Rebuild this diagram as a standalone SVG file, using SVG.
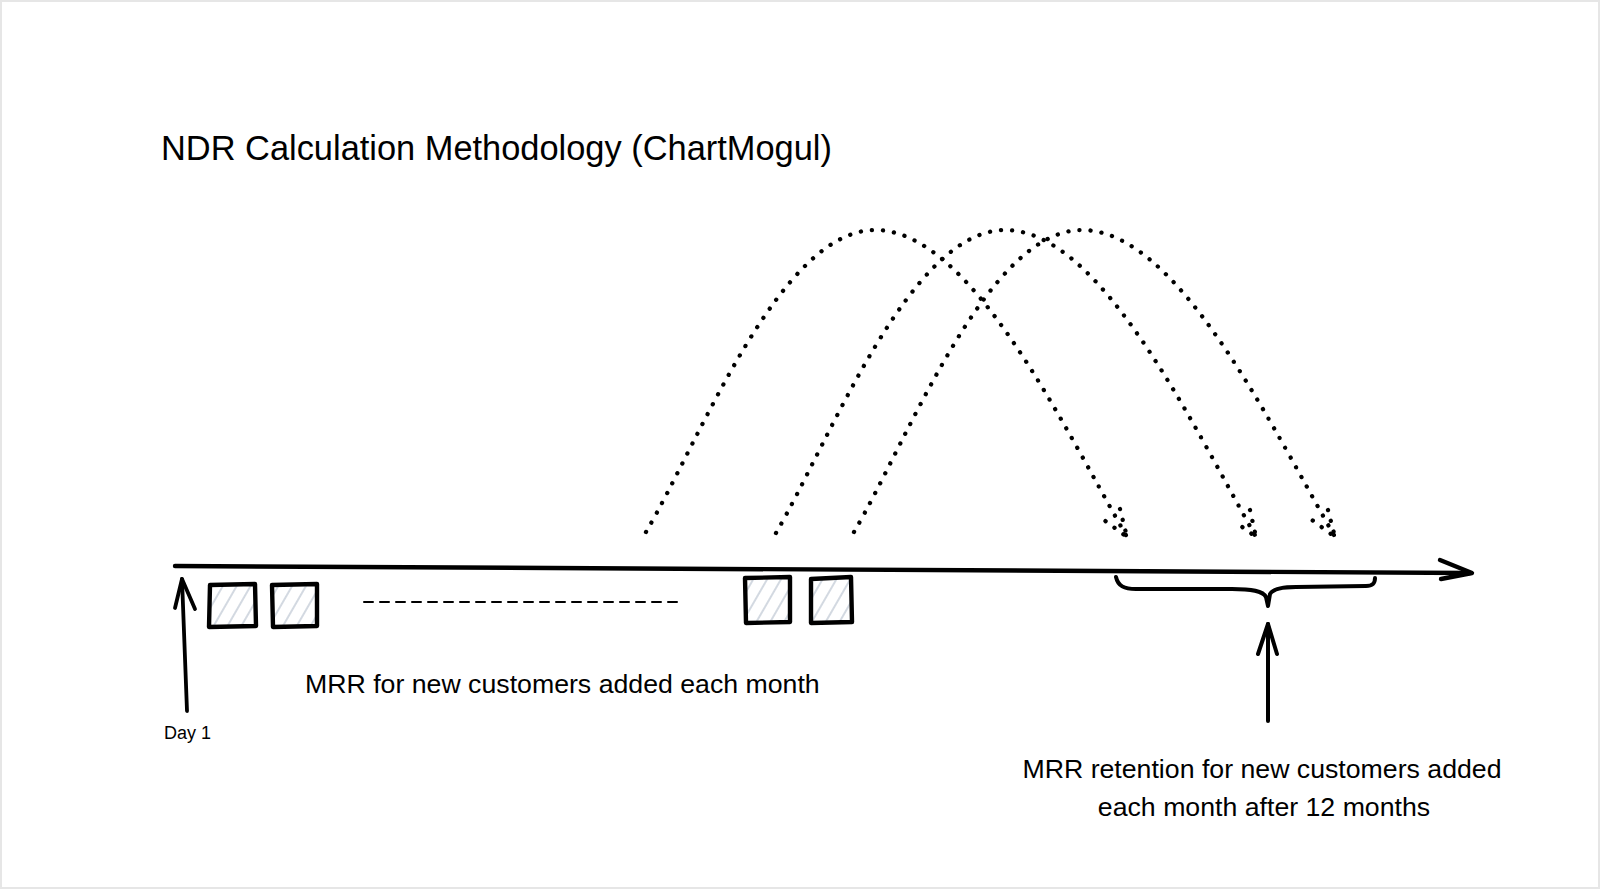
<svg xmlns="http://www.w3.org/2000/svg" width="1600" height="889" viewBox="0 0 1600 889">
  <defs>
    <pattern id="hatch" patternUnits="userSpaceOnUse" width="12" height="12" patternTransform="rotate(30)">
      <line x1="6" y1="0" x2="6" y2="12" stroke="#c8d0da" stroke-width="1.6"/>
    </pattern>
    <style>
      .txt { font-family: "Liberation Sans", Arial, sans-serif; fill: #000; }
      .ink { fill: none; stroke: #000; stroke-linecap: round; stroke-linejoin: round; }
      .box { fill: url(#hatch); stroke: #000; stroke-width: 4.4; stroke-linejoin: round; stroke-linecap: round; }
      .dots { fill: none; stroke: #000; stroke-width: 4.3; stroke-linecap: round; stroke-dasharray: 0.1 11; }
    </style>
  </defs>
  <rect x="1" y="1" width="1598" height="887" fill="#fff" stroke="#e6e6e6" stroke-width="2"/>

  <g id="title">
    <text class="txt" x="161" y="160" font-size="34.4">NDR Calculation Methodology (ChartMogul)</text>
  </g>

  <g id="connectors">
    <!-- main timeline -->
    <path class="ink" stroke-width="4.4" d="M175,566 L1470,573"/>
    <path class="ink" stroke-width="4.4" d="M1440,560 L1472,573 L1441,579"/>
    <!-- Day 1 arrow -->
    <path class="ink" stroke-width="3.8" d="M187,711 L182,579"/>
    <path class="ink" stroke-width="3.8" d="M175,608 L182,579 L195,609"/>
    <!-- dashed ellipsis -->
    <path class="ink" stroke-width="2" stroke-dasharray="9 7" d="M364,602 L684,602"/>
    <!-- dotted arcs -->
    <path class="dots" d="M646,532 C700,440 780,230 875,230 C970,230 1060,420 1127,537"/>
    <path class="dots" d="M1120,509 L1127,537 L1104,520"/>
    <path class="dots" d="M776,533 C830,440 910,230 1005,230 C1100,230 1190,420 1256,537"/>
    <path class="dots" d="M1250,510 L1256,537 L1234,521"/>
    <path class="dots" d="M854,532 C908,440 987,230 1082,230 C1177,230 1268,420 1335,537"/>
    <path class="dots" d="M1328,510 L1335,537 L1312,520"/>
    <!-- brace -->
    <path class="ink" stroke-width="4" d="M1116,577 C1118,586 1124,589 1136,589 L1232,589 C1252,589 1263,591 1266,597 L1268,606 L1270,594 C1273,589 1282,587 1296,587 L1366,586 C1373,586 1375,583 1375,578"/>
    <!-- retention arrow -->
    <path class="ink" stroke-width="4" d="M1268,721 L1268,624"/>
    <path class="ink" stroke-width="4" d="M1258,654 L1268,624 L1277,654"/>
  </g>

  <g id="box1">
    <path class="box" d="M210,585 L255,584 L256,626 L209,627 Z"/>
  </g>
  <g id="box2">
    <path class="box" d="M272,585 L317,584 L317,626 L273,627 Z"/>
  </g>
  <g id="box3">
    <path class="box" d="M745,578 L790,577 L790,622 L746,623 Z"/>
  </g>
  <g id="box4">
    <path class="box" d="M811,579 L851,577 L852,622 L811,623 Z"/>
  </g>

  <g id="day1">
    <text class="txt" x="164" y="739" font-size="18">Day 1</text>
  </g>
  <g id="mrr-label">
    <text class="txt" x="305" y="693" font-size="26.7">MRR for new customers added each month</text>
  </g>
  <g id="retention-label">
    <text class="txt" x="1262" y="778" font-size="26.7" text-anchor="middle">MRR retention for new customers added</text>
    <text class="txt" x="1264" y="816" font-size="26.7" text-anchor="middle">each month after 12 months</text>
  </g>
</svg>
